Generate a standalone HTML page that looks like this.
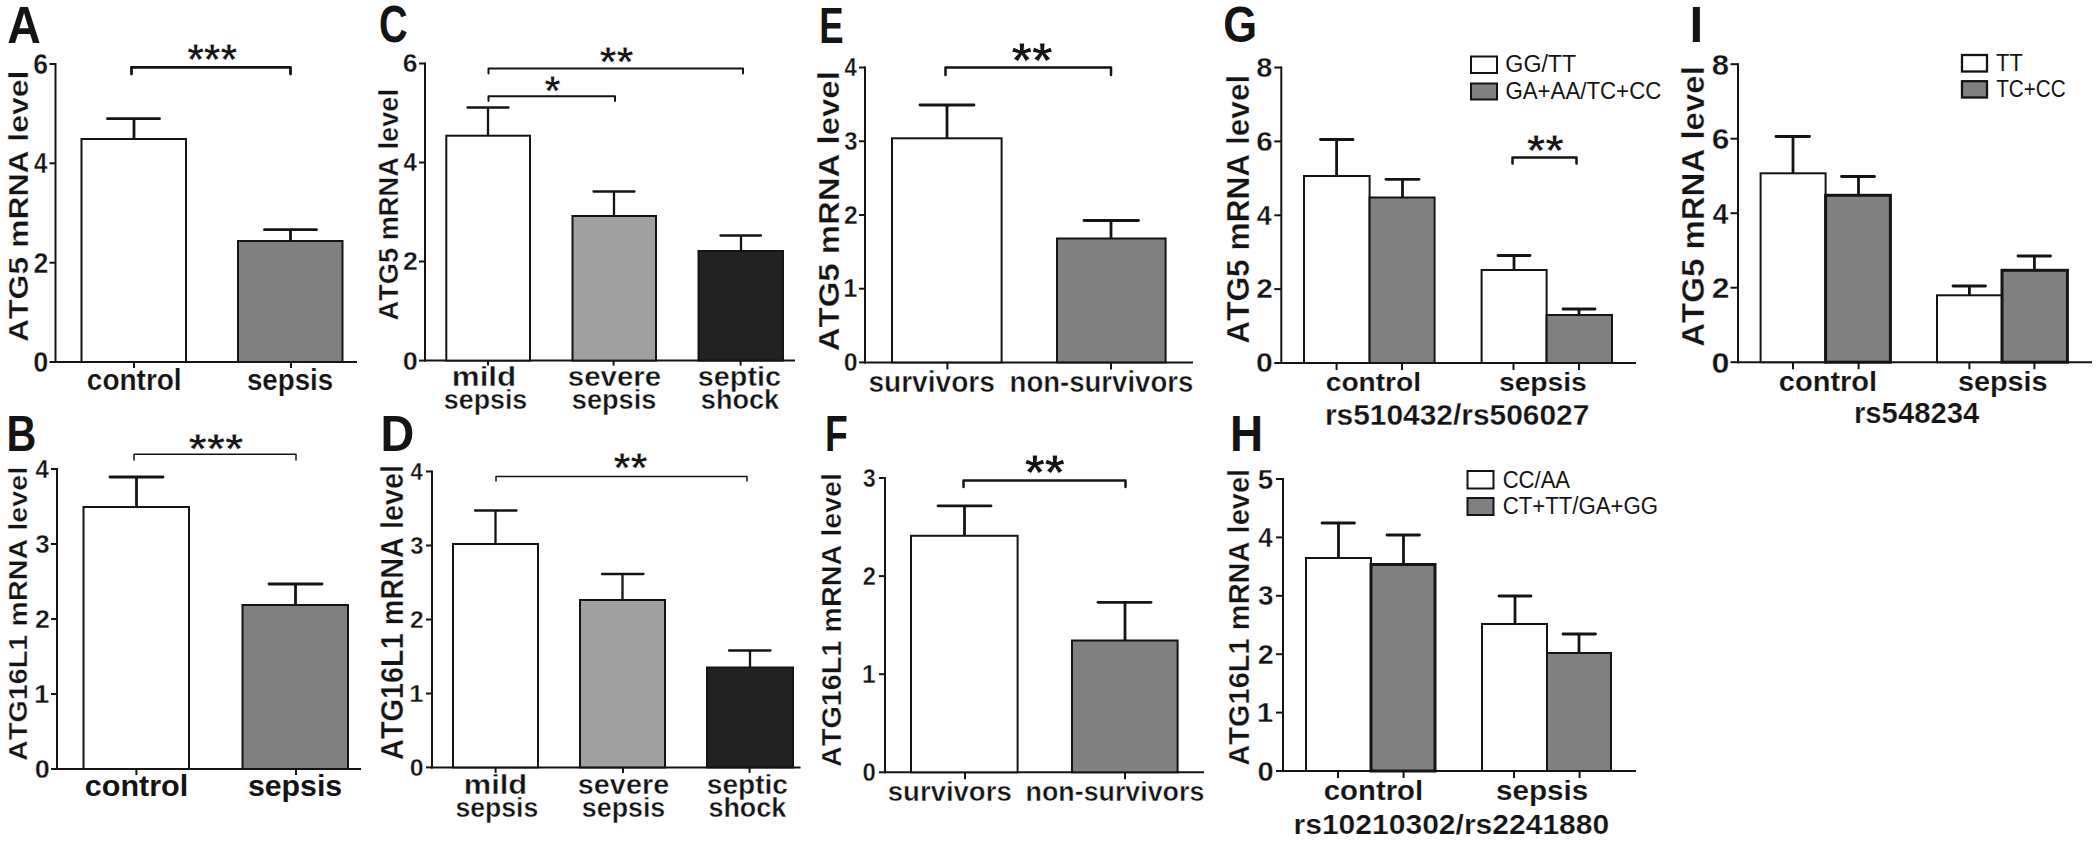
<!DOCTYPE html>
<html><head><meta charset="utf-8"><title>Figure</title>
<style>
html,body{margin:0;padding:0;background:#fff;}
body{width:2100px;height:847px;overflow:hidden;}
svg{display:block;font-family:"Liberation Sans",sans-serif;font-weight:bold;font-kerning:none;fill:#141414;}
</style></head><body>
<svg width="2100" height="847" viewBox="0 0 2100 847">
<rect x="0" y="0" width="2100" height="847" fill="#fff" stroke="none"/>
<text transform="translate(8.5 42.5) scale(0.9119 1)" x="-1.27" y="0" font-size="51">A</text>
<line x1="55.5" y1="63.0" x2="55.5" y2="363.0" stroke="#141414" stroke-width="2"/>
<line x1="54.5" y1="362" x2="357" y2="362" stroke="#141414" stroke-width="2"/>
<line x1="49.5" y1="64" x2="55.5" y2="64" stroke="#141414" stroke-width="2"/>
<text transform="translate(34.33 73.98) scale(0.9166 1)" x="-1.06" y="0" font-size="29" stroke="#fff" stroke-width="0.35">6</text>
<line x1="49.5" y1="163.3" x2="55.5" y2="163.3" stroke="#141414" stroke-width="2"/>
<text transform="translate(34.33 173.28) scale(0.8272 1)" x="-0.44" y="0" font-size="29" stroke="#fff" stroke-width="0.35">4</text>
<line x1="49.5" y1="262.7" x2="55.5" y2="262.7" stroke="#141414" stroke-width="2"/>
<text transform="translate(34.33 272.68) scale(0.9204 1)" x="-1.01" y="0" font-size="29" stroke="#fff" stroke-width="0.35">2</text>
<line x1="49.5" y1="362" x2="55.5" y2="362" stroke="#141414" stroke-width="2"/>
<text transform="translate(34.33 371.98) scale(0.9317 1)" x="-1.15" y="0" font-size="29" stroke="#fff" stroke-width="0.35">0</text>
<rect x="81.5" y="139" width="104.5" height="223" fill="#fff" stroke="#141414" stroke-width="2"/>
<rect x="238" y="241" width="104.5" height="121" fill="#808080" stroke="#141414" stroke-width="2"/>
<line x1="134" y1="118.7" x2="134" y2="139" stroke="#141414" stroke-width="2.8"/>
<line x1="107.5" y1="118.7" x2="159.5" y2="118.7" stroke="#141414" stroke-width="2.8" stroke-linecap="round"/>
<line x1="290.5" y1="229.7" x2="290.5" y2="241" stroke="#141414" stroke-width="2.8"/>
<line x1="264.5" y1="229.7" x2="316.5" y2="229.7" stroke="#141414" stroke-width="2.8" stroke-linecap="round"/>
<line x1="134" y1="362" x2="134" y2="368" stroke="#141414" stroke-width="2"/>
<line x1="291" y1="362" x2="291" y2="368" stroke="#141414" stroke-width="2"/>
<polyline points="131.5,74 131.5,67.3 290.5,67.3 290.5,74" fill="none" stroke="#141414" stroke-width="2.8" stroke-linecap="round" stroke-linejoin="round"/>
<text transform="translate(187.3 75) scale(0.9727 1)" x="-0.13" y="0" font-size="44" stroke="#fff" stroke-width="0.8">***</text>
<text transform="translate(87.9 389.6) scale(0.9333 1)" x="-1.17" y="0" font-size="30" stroke="#fff" stroke-width="0.2">control</text>
<text transform="translate(247.9 389.6) scale(0.9241 1)" x="-1.05" y="0" font-size="30" stroke="#fff" stroke-width="0.2">sepsis</text>
<text transform="translate(28 341.175) rotate(-90) scale(1.1608 1)" x="-0.68" y="0" font-size="27.5" stroke="#fff" stroke-width="0.35">ATG5 mRNA level</text>
<text transform="translate(9.2 450.7) scale(0.8264 1)" x="-3.34" y="0" font-size="50">B</text>
<line x1="57" y1="468.0" x2="57" y2="770.0" stroke="#141414" stroke-width="2"/>
<line x1="56.0" y1="769" x2="361" y2="769" stroke="#141414" stroke-width="2"/>
<line x1="51" y1="469" x2="57" y2="469" stroke="#141414" stroke-width="2"/>
<text transform="translate(35.83 477.6) scale(0.9596 1)" x="-0.38" y="0" font-size="25" stroke="#fff" stroke-width="0.35">4</text>
<line x1="51" y1="544" x2="57" y2="544" stroke="#141414" stroke-width="2"/>
<text transform="translate(35.83 552.6) scale(1.0341 1)" x="-0.57" y="0" font-size="25" stroke="#fff" stroke-width="0.35">3</text>
<line x1="51" y1="619" x2="57" y2="619" stroke="#141414" stroke-width="2"/>
<text transform="translate(35.83 627.6) scale(1.0676 1)" x="-0.87" y="0" font-size="25" stroke="#fff" stroke-width="0.35">2</text>
<line x1="51" y1="694" x2="57" y2="694" stroke="#141414" stroke-width="2"/>
<text transform="translate(35.83 702.6) scale(1.1046 1)" x="-1.57" y="0" font-size="25" stroke="#fff" stroke-width="0.35">1</text>
<line x1="51" y1="769" x2="57" y2="769" stroke="#141414" stroke-width="2"/>
<text transform="translate(35.83 777.6) scale(1.0808 1)" x="-0.99" y="0" font-size="25" stroke="#fff" stroke-width="0.35">0</text>
<rect x="83.5" y="507" width="105.5" height="262" fill="#fff" stroke="#141414" stroke-width="2"/>
<rect x="242.5" y="605" width="105.5" height="164" fill="#808080" stroke="#141414" stroke-width="2"/>
<line x1="136.5" y1="477" x2="136.5" y2="507" stroke="#141414" stroke-width="2.8"/>
<line x1="110.0" y1="477" x2="163.0" y2="477" stroke="#141414" stroke-width="2.8" stroke-linecap="round"/>
<line x1="295.5" y1="584" x2="295.5" y2="605" stroke="#141414" stroke-width="2.8"/>
<line x1="269.0" y1="584" x2="322.0" y2="584" stroke="#141414" stroke-width="2.8" stroke-linecap="round"/>
<line x1="136.4" y1="769" x2="136.4" y2="775" stroke="#141414" stroke-width="2"/>
<line x1="296" y1="769" x2="296" y2="775" stroke="#141414" stroke-width="2"/>
<polyline points="134,460 134,454.3 296,454.3 296,460" fill="none" stroke="#141414" stroke-width="1.5" stroke-linecap="round" stroke-linejoin="round"/>
<text transform="translate(188.6 462.6) scale(1.1213 1)" x="-0.12" y="0" font-size="42" stroke="#fff" stroke-width="0.8">***</text>
<text transform="translate(86.0 796) scale(1.0339 1)" x="-1.15" y="0" font-size="29.5">control</text>
<text transform="translate(249.0 796) scale(1.0268 1)" x="-1.04" y="0" font-size="29.5">sepsis</text>
<text transform="translate(26.8 760.175) rotate(-90) scale(1.1062 1)" x="-0.65" y="0" font-size="26" stroke="#fff" stroke-width="0.35">ATG16L1 mRNA level</text>
<text transform="translate(380.5 42.3) scale(0.7767 1)" x="-2.09" y="0" font-size="51">C</text>
<line x1="425" y1="62.5" x2="425" y2="361.6" stroke="#141414" stroke-width="2"/>
<line x1="424.0" y1="360.6" x2="795" y2="360.6" stroke="#141414" stroke-width="2"/>
<line x1="419" y1="63.5" x2="425" y2="63.5" stroke="#141414" stroke-width="2"/>
<text transform="translate(403.82 72.44) scale(1.0224 1)" x="-0.95" y="0" font-size="26" stroke="#fff" stroke-width="0.35">6</text>
<line x1="419" y1="162.5" x2="425" y2="162.5" stroke="#141414" stroke-width="2"/>
<text transform="translate(403.82 171.44) scale(0.9227 1)" x="-0.39" y="0" font-size="26" stroke="#fff" stroke-width="0.35">4</text>
<line x1="419" y1="261.5" x2="425" y2="261.5" stroke="#141414" stroke-width="2"/>
<text transform="translate(403.82 270.44) scale(1.0266 1)" x="-0.90" y="0" font-size="26" stroke="#fff" stroke-width="0.35">2</text>
<line x1="419" y1="360.6" x2="425" y2="360.6" stroke="#141414" stroke-width="2"/>
<text transform="translate(403.82 369.54) scale(1.0392 1)" x="-1.03" y="0" font-size="26" stroke="#fff" stroke-width="0.35">0</text>
<rect x="446.3" y="135.7" width="83.7" height="224.9" fill="#fff" stroke="#141414" stroke-width="2"/>
<rect x="572.5" y="216" width="83.5" height="144.6" fill="#a0a0a0" stroke="#141414" stroke-width="2"/>
<rect x="698.5" y="251" width="84.5" height="109.6" fill="#222" stroke="#141414" stroke-width="2"/>
<line x1="488" y1="107.5" x2="488" y2="135.7" stroke="#141414" stroke-width="2.3"/>
<line x1="467.5" y1="107.5" x2="508.5" y2="107.5" stroke="#141414" stroke-width="2.3" stroke-linecap="round"/>
<line x1="614" y1="191.5" x2="614" y2="216" stroke="#141414" stroke-width="2.3"/>
<line x1="593.5" y1="191.5" x2="634.5" y2="191.5" stroke="#141414" stroke-width="2.3" stroke-linecap="round"/>
<line x1="741" y1="235.5" x2="741" y2="251" stroke="#141414" stroke-width="2.3"/>
<line x1="720.5" y1="235.5" x2="761.0" y2="235.5" stroke="#141414" stroke-width="2.3" stroke-linecap="round"/>
<line x1="488" y1="360.6" x2="488" y2="365.6" stroke="#141414" stroke-width="2"/>
<line x1="613.6" y1="360.6" x2="613.6" y2="365.6" stroke="#141414" stroke-width="2"/>
<line x1="740.6" y1="360.6" x2="740.6" y2="365.6" stroke="#141414" stroke-width="2"/>
<polyline points="488.5,73.5 488.5,68.5 743,68.5 743,73.5" fill="none" stroke="#141414" stroke-width="2" stroke-linecap="round" stroke-linejoin="round"/>
<polyline points="488.5,101 488.5,96.2 615,96.2 615,101" fill="none" stroke="#141414" stroke-width="2" stroke-linecap="round" stroke-linejoin="round"/>
<text transform="translate(599.6 76) scale(1.0392 1)" x="-0.12" y="0" font-size="42" stroke="#fff" stroke-width="0.8">**</text>
<text transform="translate(544.6 105) scale(0.9765 1)" x="-0.12" y="0" font-size="42" stroke="#fff" stroke-width="0.8">*</text>
<text transform="translate(453.8 386) scale(1.1213 1)" x="-1.85" y="0" font-size="28" stroke="#fff" stroke-width="0.4">mild</text>
<text transform="translate(444.8 409) scale(0.9572 1)" x="-0.98" y="0" font-size="28" stroke="#fff" stroke-width="0.4">sepsis</text>
<text transform="translate(568.8 386) scale(1.0528 1)" x="-0.98" y="0" font-size="28" stroke="#fff" stroke-width="0.4">severe</text>
<text transform="translate(572.8 409) scale(0.9690 1)" x="-0.98" y="0" font-size="28" stroke="#fff" stroke-width="0.4">sepsis</text>
<text transform="translate(698.8 386) scale(1.0288 1)" x="-0.98" y="0" font-size="28" stroke="#fff" stroke-width="0.4">septic</text>
<text transform="translate(701.8 409) scale(0.9679 1)" x="-0.98" y="0" font-size="28" stroke="#fff" stroke-width="0.4">shock</text>
<text transform="translate(398 319.875) rotate(-90) scale(1.0091 1)" x="-0.67" y="0" font-size="27" stroke="#fff" stroke-width="0.35">ATG5 mRNA level</text>
<text transform="translate(383.7 450.6) scale(0.9359 1)" x="-3.34" y="0" font-size="50">D</text>
<line x1="432" y1="470.5" x2="432" y2="768.4" stroke="#141414" stroke-width="2"/>
<line x1="431.0" y1="767.4" x2="800.6" y2="767.4" stroke="#141414" stroke-width="2"/>
<line x1="426" y1="471.5" x2="432" y2="471.5" stroke="#141414" stroke-width="2"/>
<text transform="translate(410.82 479.76) scale(0.9218 1)" x="-0.36" y="0" font-size="24" stroke="#fff" stroke-width="0.35">4</text>
<line x1="426" y1="545.5" x2="432" y2="545.5" stroke="#141414" stroke-width="2"/>
<text transform="translate(410.82 553.76) scale(0.9933 1)" x="-0.55" y="0" font-size="24" stroke="#fff" stroke-width="0.35">3</text>
<line x1="426" y1="619.5" x2="432" y2="619.5" stroke="#141414" stroke-width="2"/>
<text transform="translate(410.82 627.76) scale(1.0256 1)" x="-0.83" y="0" font-size="24" stroke="#fff" stroke-width="0.35">2</text>
<line x1="426" y1="693.5" x2="432" y2="693.5" stroke="#141414" stroke-width="2"/>
<text transform="translate(410.82 701.76) scale(1.0611 1)" x="-1.51" y="0" font-size="24" stroke="#fff" stroke-width="0.35">1</text>
<line x1="426" y1="767.4" x2="432" y2="767.4" stroke="#141414" stroke-width="2"/>
<text transform="translate(410.82 775.66) scale(1.0382 1)" x="-0.95" y="0" font-size="24" stroke="#fff" stroke-width="0.35">0</text>
<rect x="453" y="544" width="85" height="223.4" fill="#fff" stroke="#141414" stroke-width="2"/>
<rect x="580" y="600" width="85" height="167.4" fill="#a0a0a0" stroke="#141414" stroke-width="2"/>
<rect x="707" y="667.5" width="86" height="99.9" fill="#222" stroke="#141414" stroke-width="2"/>
<line x1="495.5" y1="510.5" x2="495.5" y2="544" stroke="#141414" stroke-width="2.3"/>
<line x1="475.0" y1="510.5" x2="516.5" y2="510.5" stroke="#141414" stroke-width="2.3" stroke-linecap="round"/>
<line x1="622.5" y1="574" x2="622.5" y2="600" stroke="#141414" stroke-width="2.3"/>
<line x1="602.0" y1="574" x2="643.5" y2="574" stroke="#141414" stroke-width="2.3" stroke-linecap="round"/>
<line x1="750" y1="650.5" x2="750" y2="667.5" stroke="#141414" stroke-width="2.3"/>
<line x1="729.0" y1="650.5" x2="770.5" y2="650.5" stroke="#141414" stroke-width="2.3" stroke-linecap="round"/>
<line x1="495.6" y1="767.4" x2="495.6" y2="772.9" stroke="#141414" stroke-width="2"/>
<line x1="623" y1="767.4" x2="623" y2="772.9" stroke="#141414" stroke-width="2"/>
<line x1="749.6" y1="767.4" x2="749.6" y2="772.9" stroke="#141414" stroke-width="2"/>
<polyline points="496,481 496,476.4 747,476.4 747,481" fill="none" stroke="#141414" stroke-width="1.5" stroke-linecap="round" stroke-linejoin="round"/>
<text transform="translate(613.6 482) scale(1.0392 1)" x="-0.12" y="0" font-size="42" stroke="#fff" stroke-width="0.8">**</text>
<text transform="translate(465.8 794) scale(1.1027 1)" x="-1.85" y="0" font-size="28" stroke="#fff" stroke-width="0.4">mild</text>
<text transform="translate(456.4 817) scale(0.9502 1)" x="-0.98" y="0" font-size="28" stroke="#fff" stroke-width="0.4">sepsis</text>
<text transform="translate(578.8 794) scale(1.0298 1)" x="-0.98" y="0" font-size="28" stroke="#fff" stroke-width="0.4">severe</text>
<text transform="translate(582.8 817) scale(0.9572 1)" x="-0.98" y="0" font-size="28" stroke="#fff" stroke-width="0.4">sepsis</text>
<text transform="translate(707.8 794) scale(1.0035 1)" x="-0.98" y="0" font-size="28" stroke="#fff" stroke-width="0.4">septic</text>
<text transform="translate(709.4 817) scale(0.9604 1)" x="-0.98" y="0" font-size="28" stroke="#fff" stroke-width="0.4">shock</text>
<text transform="translate(402.7 759.175) rotate(-90) scale(0.9162 1)" x="-0.78" y="0" font-size="31.5" stroke="#fff" stroke-width="0.35">ATG16L1 mRNA level</text>
<text transform="translate(821.6 42.5) scale(0.7308 1)" x="-3.34" y="0" font-size="50">E</text>
<line x1="865" y1="66.5" x2="865" y2="363.4" stroke="#141414" stroke-width="2"/>
<line x1="864.0" y1="362.4" x2="1193" y2="362.4" stroke="#141414" stroke-width="2"/>
<line x1="859" y1="67.5" x2="865" y2="67.5" stroke="#141414" stroke-width="2"/>
<text transform="translate(844.83 76.1) scale(0.8849 1)" x="-0.38" y="0" font-size="25" stroke="#fff" stroke-width="0.35">4</text>
<line x1="859" y1="141.25" x2="865" y2="141.25" stroke="#141414" stroke-width="2"/>
<text transform="translate(844.83 149.85) scale(0.9536 1)" x="-0.57" y="0" font-size="25" stroke="#fff" stroke-width="0.35">3</text>
<line x1="859" y1="215" x2="865" y2="215" stroke="#141414" stroke-width="2"/>
<text transform="translate(844.83 223.6) scale(0.9845 1)" x="-0.87" y="0" font-size="25" stroke="#fff" stroke-width="0.35">2</text>
<line x1="859" y1="288.7" x2="865" y2="288.7" stroke="#141414" stroke-width="2"/>
<text transform="translate(844.83 297.3) scale(1.0186 1)" x="-1.57" y="0" font-size="25" stroke="#fff" stroke-width="0.35">1</text>
<line x1="859" y1="362.4" x2="865" y2="362.4" stroke="#141414" stroke-width="2"/>
<text transform="translate(844.83 371.0) scale(0.9967 1)" x="-0.99" y="0" font-size="25" stroke="#fff" stroke-width="0.35">0</text>
<rect x="892" y="138.3" width="109.6" height="224.1" fill="#fff" stroke="#141414" stroke-width="2"/>
<rect x="1057" y="238.5" width="108.6" height="123.9" fill="#808080" stroke="#141414" stroke-width="2"/>
<line x1="947" y1="105" x2="947" y2="138.5" stroke="#141414" stroke-width="2.8"/>
<line x1="920.0" y1="105" x2="974.0" y2="105" stroke="#141414" stroke-width="2.8" stroke-linecap="round"/>
<line x1="1111" y1="220.5" x2="1111" y2="238.5" stroke="#141414" stroke-width="2.8"/>
<line x1="1084.0" y1="220.5" x2="1138.5" y2="220.5" stroke="#141414" stroke-width="2.8" stroke-linecap="round"/>
<line x1="947.4" y1="362.4" x2="947.4" y2="369.4" stroke="#141414" stroke-width="2"/>
<line x1="1111" y1="362.4" x2="1111" y2="369.4" stroke="#141414" stroke-width="2"/>
<polyline points="945.5,75 945.5,67.5 1111,67.5 1111,75" fill="none" stroke="#141414" stroke-width="2.5" stroke-linecap="round" stroke-linejoin="round"/>
<text transform="translate(1011.6 78) scale(1.0537 1)" x="-0.15" y="0" font-size="50" stroke="#fff" stroke-width="0.8">**</text>
<text transform="translate(869.38 392.4) scale(0.9531 1)" x="-1.04" y="0" font-size="29.5" stroke="#fff" stroke-width="0.45">survivors</text>
<text transform="translate(1011.38 392.4) scale(0.9344 1)" x="-1.94" y="0" font-size="29.5" stroke="#fff" stroke-width="0.45">non-survivors</text>
<text transform="translate(839 350.475) rotate(-90) scale(1.0989 1)" x="-0.75" y="0" font-size="30" stroke="#fff" stroke-width="0.35">ATG5 mRNA level</text>
<text transform="translate(827.5 450.6) scale(0.7451 1)" x="-3.34" y="0" font-size="50">F</text>
<line x1="885" y1="477.0" x2="885" y2="773.3" stroke="#141414" stroke-width="2"/>
<line x1="884.0" y1="772.3" x2="1204" y2="772.3" stroke="#141414" stroke-width="2"/>
<line x1="879" y1="478" x2="885" y2="478" stroke="#141414" stroke-width="2"/>
<text transform="translate(863.53 486.6) scale(0.9134 1)" x="-0.57" y="0" font-size="25" stroke="#fff" stroke-width="0.35">3</text>
<line x1="879" y1="576.1" x2="885" y2="576.1" stroke="#141414" stroke-width="2"/>
<text transform="translate(863.53 584.7) scale(0.9430 1)" x="-0.87" y="0" font-size="25" stroke="#fff" stroke-width="0.35">2</text>
<line x1="879" y1="674.2" x2="885" y2="674.2" stroke="#141414" stroke-width="2"/>
<text transform="translate(863.53 682.8) scale(0.9756 1)" x="-1.57" y="0" font-size="25" stroke="#fff" stroke-width="0.35">1</text>
<line x1="879" y1="772.3" x2="885" y2="772.3" stroke="#141414" stroke-width="2"/>
<text transform="translate(863.53 780.9) scale(0.9546 1)" x="-0.99" y="0" font-size="25" stroke="#fff" stroke-width="0.35">0</text>
<rect x="911" y="535.8" width="106.6" height="236.5" fill="#fff" stroke="#141414" stroke-width="2"/>
<rect x="1072" y="640.5" width="105.6" height="131.8" fill="#808080" stroke="#141414" stroke-width="2"/>
<line x1="964.5" y1="505.8" x2="964.5" y2="535.8" stroke="#141414" stroke-width="2.8"/>
<line x1="938.0" y1="505.8" x2="991.0" y2="505.8" stroke="#141414" stroke-width="2.8" stroke-linecap="round"/>
<line x1="1125" y1="602.3" x2="1125" y2="640.5" stroke="#141414" stroke-width="2.8"/>
<line x1="1098.0" y1="602.3" x2="1151.0" y2="602.3" stroke="#141414" stroke-width="2.8" stroke-linecap="round"/>
<line x1="965" y1="772.3" x2="965" y2="779.3" stroke="#141414" stroke-width="2"/>
<line x1="1125" y1="772.3" x2="1125" y2="779.3" stroke="#141414" stroke-width="2"/>
<polyline points="963.5,487 963.5,480.5 1125.5,480.5 1125.5,487" fill="none" stroke="#141414" stroke-width="2.5" stroke-linecap="round" stroke-linejoin="round"/>
<text transform="translate(1024.8 489.5) scale(1.0279 1)" x="-0.15" y="0" font-size="50" stroke="#fff" stroke-width="0.8">**</text>
<text transform="translate(888.77 801.4) scale(0.9659 1)" x="-1.00" y="0" font-size="28.5" stroke="#fff" stroke-width="0.45">survivors</text>
<text transform="translate(1027.38 801.4) scale(0.9404 1)" x="-1.88" y="0" font-size="28.5" stroke="#fff" stroke-width="0.45">non-survivors</text>
<text transform="translate(841.3 766.175) rotate(-90) scale(1.0459 1)" x="-0.68" y="0" font-size="27.5" stroke="#fff" stroke-width="0.35">ATG16L1 mRNA level</text>
<text transform="translate(1225.1 42.2) scale(0.8714 1)" x="-2.05" y="0" font-size="50">G</text>
<line x1="1281.3" y1="66.5" x2="1281.3" y2="364.0" stroke="#141414" stroke-width="2"/>
<line x1="1280.3" y1="363" x2="1636" y2="363" stroke="#141414" stroke-width="2"/>
<line x1="1274.3" y1="67.5" x2="1281.3" y2="67.5" stroke="#141414" stroke-width="2"/>
<text transform="translate(1257.22 76.79) scale(1.0766 1)" x="-0.86" y="0" font-size="27" stroke="#fff" stroke-width="0.35">8</text>
<line x1="1274.3" y1="141.4" x2="1281.3" y2="141.4" stroke="#141414" stroke-width="2"/>
<text transform="translate(1257.22 150.69) scale(1.0995 1)" x="-0.99" y="0" font-size="27" stroke="#fff" stroke-width="0.35">6</text>
<line x1="1274.3" y1="215.3" x2="1281.3" y2="215.3" stroke="#141414" stroke-width="2"/>
<text transform="translate(1257.22 224.59) scale(0.9922 1)" x="-0.41" y="0" font-size="27" stroke="#fff" stroke-width="0.35">4</text>
<line x1="1274.3" y1="289.1" x2="1281.3" y2="289.1" stroke="#141414" stroke-width="2"/>
<text transform="translate(1257.22 298.39) scale(1.1039 1)" x="-0.94" y="0" font-size="27" stroke="#fff" stroke-width="0.35">2</text>
<line x1="1274.3" y1="363" x2="1281.3" y2="363" stroke="#141414" stroke-width="2"/>
<text transform="translate(1257.22 372.29) scale(1.1175 1)" x="-1.07" y="0" font-size="27" stroke="#fff" stroke-width="0.35">0</text>
<rect x="1304" y="176" width="65.6" height="187" fill="#fff" stroke="#141414" stroke-width="2"/>
<rect x="1369.6" y="197.5" width="65.0" height="165.5" fill="#808080" stroke="#141414" stroke-width="2"/>
<rect x="1481.6" y="270" width="65.0" height="93" fill="#fff" stroke="#141414" stroke-width="2"/>
<rect x="1546.6" y="315" width="65.4" height="48" fill="#808080" stroke="#141414" stroke-width="2"/>
<line x1="1336.6" y1="139.5" x2="1336.6" y2="176" stroke="#141414" stroke-width="2.8"/>
<line x1="1320.5" y1="139.5" x2="1353.0" y2="139.5" stroke="#141414" stroke-width="2.8" stroke-linecap="round"/>
<line x1="1402.5" y1="179.3" x2="1402.5" y2="197.5" stroke="#141414" stroke-width="2.8"/>
<line x1="1386.0" y1="179.3" x2="1419.0" y2="179.3" stroke="#141414" stroke-width="2.8" stroke-linecap="round"/>
<line x1="1514" y1="255.5" x2="1514" y2="270" stroke="#141414" stroke-width="2.8"/>
<line x1="1498.0" y1="255.5" x2="1530.0" y2="255.5" stroke="#141414" stroke-width="2.8" stroke-linecap="round"/>
<line x1="1579" y1="309" x2="1579" y2="315" stroke="#141414" stroke-width="2.8"/>
<line x1="1563.0" y1="309" x2="1595.0" y2="309" stroke="#141414" stroke-width="2.8" stroke-linecap="round"/>
<line x1="1336.6" y1="363" x2="1336.6" y2="370" stroke="#141414" stroke-width="2"/>
<line x1="1402" y1="363" x2="1402" y2="370" stroke="#141414" stroke-width="2"/>
<line x1="1513.5" y1="363" x2="1513.5" y2="370" stroke="#141414" stroke-width="2"/>
<line x1="1579" y1="363" x2="1579" y2="370" stroke="#141414" stroke-width="2"/>
<polyline points="1512.5,163.5 1512.5,157.5 1576.5,157.5 1576.5,163.5" fill="none" stroke="#141414" stroke-width="2.5" stroke-linecap="round" stroke-linejoin="round"/>
<text transform="translate(1526.9 166.4) scale(1.0560 1)" x="-0.13" y="0" font-size="45" stroke="#fff" stroke-width="0.8">**</text>
<rect x="1471" y="56.5" width="26" height="16.5" fill="#fff" stroke="#141414" stroke-width="2"/>
<rect x="1471" y="83.5" width="26" height="16.0" fill="#808080" stroke="#141414" stroke-width="2"/>
<text transform="translate(1506.5 72.2) scale(0.9550 1)" x="-1.22" y="0" font-size="24.3" font-weight="normal">GG/TT</text>
<text transform="translate(1506.5 99) scale(0.9167 1)" x="-1.22" y="0" font-size="24.3" font-weight="normal">GA+AA/TC+CC</text>
<text transform="translate(1326.92 391) scale(1.0606 1)" x="-1.04" y="0" font-size="26.5" stroke="#fff" stroke-width="0.15">control</text>
<text transform="translate(1499.92 391) scale(1.0654 1)" x="-0.93" y="0" font-size="26.5" stroke="#fff" stroke-width="0.15">sepsis</text>
<text transform="translate(1326.88 425) scale(1.0316 1)" x="-1.91" y="0" font-size="29" stroke="#fff" stroke-width="0.25">rs510432/rs506027</text>
<text transform="translate(1249.2 342.875) rotate(-90) scale(1.0047 1)" x="-0.78" y="0" font-size="31.5" stroke="#fff" stroke-width="0.35">ATG5 mRNA level</text>
<text transform="translate(1233.1 450.6) scale(0.9151 1)" x="-3.34" y="0" font-size="50">H</text>
<line x1="1283" y1="478.0" x2="1283" y2="772.0" stroke="#141414" stroke-width="2"/>
<line x1="1282.0" y1="771" x2="1636" y2="771" stroke="#141414" stroke-width="2"/>
<line x1="1276" y1="479" x2="1283" y2="479" stroke="#141414" stroke-width="2"/>
<text transform="translate(1258.62 488.63) scale(0.9941 1)" x="-0.86" y="0" font-size="28" stroke="#fff" stroke-width="0.35">5</text>
<line x1="1276" y1="537.4" x2="1283" y2="537.4" stroke="#141414" stroke-width="2"/>
<text transform="translate(1258.62 547.03) scale(0.9235 1)" x="-0.42" y="0" font-size="28" stroke="#fff" stroke-width="0.35">4</text>
<line x1="1276" y1="595.8" x2="1283" y2="595.8" stroke="#141414" stroke-width="2"/>
<text transform="translate(1258.62 605.43) scale(0.9951 1)" x="-0.64" y="0" font-size="28" stroke="#fff" stroke-width="0.35">3</text>
<line x1="1276" y1="654.2" x2="1283" y2="654.2" stroke="#141414" stroke-width="2"/>
<text transform="translate(1258.62 663.83) scale(1.0274 1)" x="-0.97" y="0" font-size="28" stroke="#fff" stroke-width="0.35">2</text>
<line x1="1276" y1="712.6" x2="1283" y2="712.6" stroke="#141414" stroke-width="2"/>
<text transform="translate(1258.62 722.23) scale(1.0630 1)" x="-1.76" y="0" font-size="28" stroke="#fff" stroke-width="0.35">1</text>
<line x1="1276" y1="771" x2="1283" y2="771" stroke="#141414" stroke-width="2"/>
<text transform="translate(1258.62 780.63) scale(1.0401 1)" x="-1.11" y="0" font-size="28" stroke="#fff" stroke-width="0.35">0</text>
<rect x="1306" y="558" width="65" height="213" fill="#fff" stroke="#141414" stroke-width="2"/>
<rect x="1371" y="564.5" width="64" height="206.5" fill="#808080" stroke="#141414" stroke-width="3"/>
<rect x="1482" y="624" width="65" height="147" fill="#fff" stroke="#141414" stroke-width="2"/>
<rect x="1547" y="653" width="64" height="118" fill="#808080" stroke="#141414" stroke-width="2"/>
<line x1="1338.5" y1="523" x2="1338.5" y2="558" stroke="#141414" stroke-width="2.8"/>
<line x1="1322.0" y1="523" x2="1354.5" y2="523" stroke="#141414" stroke-width="2.8" stroke-linecap="round"/>
<line x1="1403.5" y1="535" x2="1403.5" y2="564.5" stroke="#141414" stroke-width="2.8"/>
<line x1="1387.0" y1="535" x2="1419.5" y2="535" stroke="#141414" stroke-width="2.8" stroke-linecap="round"/>
<line x1="1515" y1="596" x2="1515" y2="624" stroke="#141414" stroke-width="2.8"/>
<line x1="1499.0" y1="596" x2="1531.0" y2="596" stroke="#141414" stroke-width="2.8" stroke-linecap="round"/>
<line x1="1579" y1="634" x2="1579" y2="653" stroke="#141414" stroke-width="2.8"/>
<line x1="1563.0" y1="634" x2="1595.5" y2="634" stroke="#141414" stroke-width="2.8" stroke-linecap="round"/>
<line x1="1338" y1="771" x2="1338" y2="778" stroke="#141414" stroke-width="2"/>
<line x1="1403.6" y1="771" x2="1403.6" y2="778" stroke="#141414" stroke-width="2"/>
<line x1="1514" y1="771" x2="1514" y2="778" stroke="#141414" stroke-width="2"/>
<line x1="1579.6" y1="771" x2="1579.6" y2="778" stroke="#141414" stroke-width="2"/>
<rect x="1467.5" y="471" width="26.0" height="17.5" fill="#fff" stroke="#141414" stroke-width="2"/>
<rect x="1467.5" y="498" width="26.0" height="17" fill="#808080" stroke="#141414" stroke-width="2"/>
<text transform="translate(1503.8 488) scale(0.9071 1)" x="-1.23" y="0" font-size="24.3" font-weight="normal">CC/AA</text>
<text transform="translate(1503.8 514.3) scale(0.9140 1)" x="-1.23" y="0" font-size="24.3" font-weight="normal">CT+TT/GA+GG</text>
<text transform="translate(1324.92 800) scale(1.0861 1)" x="-1.05" y="0" font-size="27" stroke="#fff" stroke-width="0.15">control</text>
<text transform="translate(1496.92 800) scale(1.0994 1)" x="-0.95" y="0" font-size="27" stroke="#fff" stroke-width="0.15">sepsis</text>
<text transform="translate(1295.47 834) scale(1.0733 1)" x="-1.85" y="0" font-size="28" stroke="#fff" stroke-width="0.25">rs10210302/rs2241880</text>
<text transform="translate(1249.4 764.9749999999999) rotate(-90) scale(0.9679 1)" x="-0.75" y="0" font-size="30" stroke="#fff" stroke-width="0.35">ATG16L1 mRNA level</text>
<text transform="translate(1692.7 42.3) scale(0.9858 1)" x="-3.34" y="0" font-size="50">I</text>
<line x1="1738" y1="63.2" x2="1738" y2="363.2" stroke="#141414" stroke-width="2"/>
<line x1="1737.0" y1="362.2" x2="2092" y2="362.2" stroke="#141414" stroke-width="2"/>
<line x1="1730.5" y1="64.2" x2="1738" y2="64.2" stroke="#141414" stroke-width="2"/>
<text transform="translate(1712.83 74.52) scale(1.0365 1)" x="-0.95" y="0" font-size="30" stroke="#fff" stroke-width="0.35">8</text>
<line x1="1730.5" y1="138.7" x2="1738" y2="138.7" stroke="#141414" stroke-width="2"/>
<text transform="translate(1712.83 149.02) scale(1.0585 1)" x="-1.10" y="0" font-size="30" stroke="#fff" stroke-width="0.35">6</text>
<line x1="1730.5" y1="213.2" x2="1738" y2="213.2" stroke="#141414" stroke-width="2"/>
<text transform="translate(1712.83 223.52) scale(0.9552 1)" x="-0.45" y="0" font-size="30" stroke="#fff" stroke-width="0.35">4</text>
<line x1="1730.5" y1="287.7" x2="1738" y2="287.7" stroke="#141414" stroke-width="2"/>
<text transform="translate(1712.83 298.02) scale(1.0628 1)" x="-1.04" y="0" font-size="30" stroke="#fff" stroke-width="0.35">2</text>
<line x1="1730.5" y1="362.2" x2="1738" y2="362.2" stroke="#141414" stroke-width="2"/>
<text transform="translate(1712.83 372.52) scale(1.0759 1)" x="-1.19" y="0" font-size="30" stroke="#fff" stroke-width="0.35">0</text>
<rect x="1760.6" y="173.3" width="65.0" height="188.9" fill="#fff" stroke="#141414" stroke-width="2"/>
<rect x="1825.6" y="195.3" width="64.8" height="166.9" fill="#808080" stroke="#141414" stroke-width="3"/>
<rect x="1937" y="295.3" width="65" height="66.9" fill="#fff" stroke="#141414" stroke-width="2"/>
<rect x="2002" y="270.3" width="65.4" height="91.9" fill="#808080" stroke="#141414" stroke-width="3"/>
<line x1="1793" y1="136.5" x2="1793" y2="173" stroke="#141414" stroke-width="2.8"/>
<line x1="1776.0" y1="136.5" x2="1809.5" y2="136.5" stroke="#141414" stroke-width="2.8" stroke-linecap="round"/>
<line x1="1858.5" y1="176.5" x2="1858.5" y2="195" stroke="#141414" stroke-width="2.8"/>
<line x1="1841.5" y1="176.5" x2="1874.5" y2="176.5" stroke="#141414" stroke-width="2.8" stroke-linecap="round"/>
<line x1="1969.4" y1="286" x2="1969.4" y2="295" stroke="#141414" stroke-width="2.8"/>
<line x1="1953.0" y1="286" x2="1985.5" y2="286" stroke="#141414" stroke-width="2.8" stroke-linecap="round"/>
<line x1="2034.4" y1="256" x2="2034.4" y2="270" stroke="#141414" stroke-width="2.8"/>
<line x1="2018.0" y1="256" x2="2050.5" y2="256" stroke="#141414" stroke-width="2.8" stroke-linecap="round"/>
<line x1="1793" y1="362.2" x2="1793" y2="369.2" stroke="#141414" stroke-width="2"/>
<line x1="1858.6" y1="362.2" x2="1858.6" y2="369.2" stroke="#141414" stroke-width="2"/>
<line x1="1969.4" y1="362.2" x2="1969.4" y2="369.2" stroke="#141414" stroke-width="2"/>
<line x1="2034.4" y1="362.2" x2="2034.4" y2="369.2" stroke="#141414" stroke-width="2"/>
<rect x="1962" y="55" width="25" height="16.5" fill="#fff" stroke="#141414" stroke-width="2.3"/>
<rect x="1962" y="81.2" width="25" height="16.3" fill="#808080" stroke="#141414" stroke-width="2.3"/>
<text transform="translate(1996.6 71.1) scale(0.9026 1)" x="-0.55" y="0" font-size="24.3" font-weight="normal">TT</text>
<text transform="translate(1996.6 97.4) scale(0.8515 1)" x="-0.55" y="0" font-size="24.3" font-weight="normal">TC+CC</text>
<text transform="translate(1779.92 391) scale(1.0553 1)" x="-1.07" y="0" font-size="27.5" stroke="#fff" stroke-width="0.15">control</text>
<text transform="translate(1958.92 391) scale(1.0482 1)" x="-0.97" y="0" font-size="27.5" stroke="#fff" stroke-width="0.15">sepsis</text>
<text transform="translate(1855.88 423) scale(1.0093 1)" x="-1.91" y="0" font-size="29" stroke="#fff" stroke-width="0.25">rs548234</text>
<text transform="translate(1704.3 345.975) rotate(-90) scale(1.0321 1)" x="-0.80" y="0" font-size="32" stroke="#fff" stroke-width="0.35">ATG5 mRNA level</text>
</svg>
</body></html>
